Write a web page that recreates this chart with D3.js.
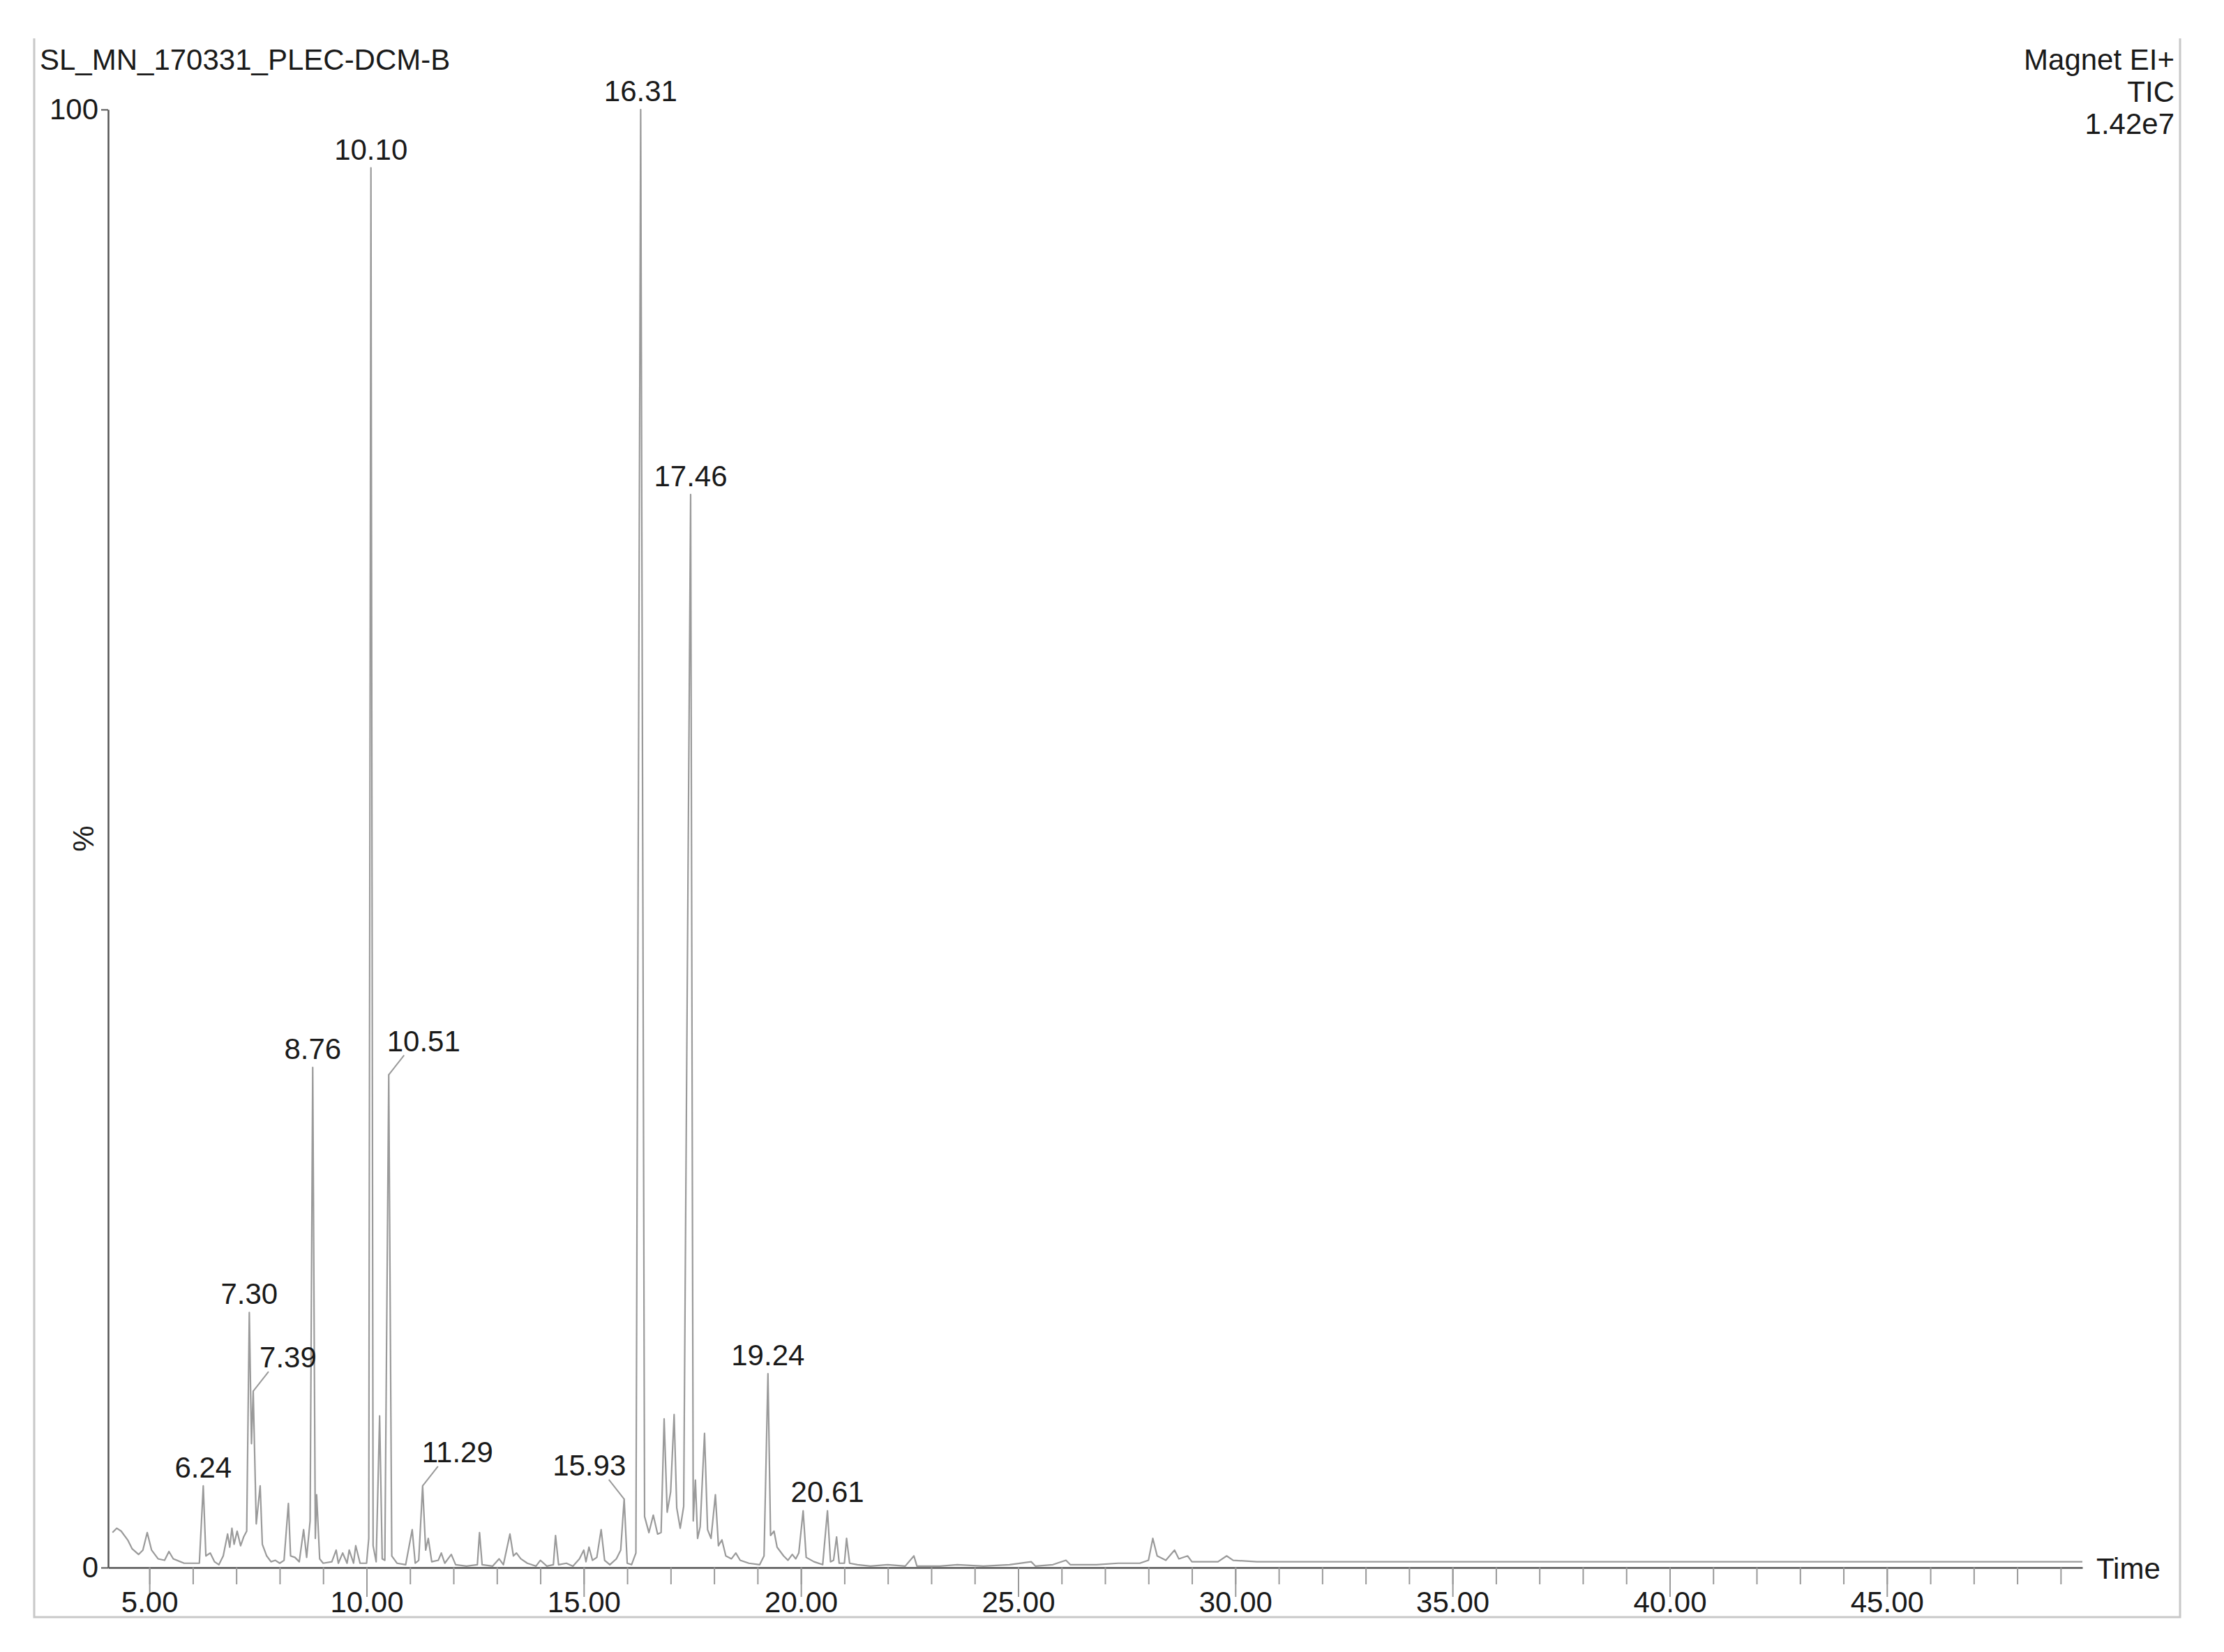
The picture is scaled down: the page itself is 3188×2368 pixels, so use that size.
<!DOCTYPE html>
<html>
<head>
<meta charset="utf-8">
<script src="https://cdn.jsdelivr.net/npm/d3@7"></script>
<style>
  body { margin: 0; background: #fff; }
  text { font-family: "Liberation Sans", Arial, sans-serif; fill: #1a1a1a; }
</style>
</head>
<body>
<svg></svg>
<script>
let svgWidth = 3188;
let svgHeight = 2368;

// chromatogram trace: [time (min), relative intensity %]
let trace = [
  [4.15, 2.4], [4.25, 2.7], [4.35, 2.5], [4.5, 1.9], [4.6, 1.3], [4.75, 0.9], [4.85, 1.2],
  [4.95, 2.4], [5.05, 1.2], [5.2, 0.6], [5.35, 0.5], [5.45, 1.1], [5.55, 0.6], [5.8, 0.3],
  [6.15, 0.3], [6.24, 5.6], [6.3, 0.8], [6.4, 1.0], [6.5, 0.4], [6.6, 0.2], [6.7, 0.8],
  [6.8, 2.3], [6.85, 1.4], [6.9, 2.7], [6.95, 1.6], [7.02, 2.5], [7.1, 1.5], [7.17, 2.1],
  [7.24, 2.5], [7.3, 17.5], [7.35, 8.5], [7.39, 12.1], [7.46, 3.0], [7.55, 5.6], [7.6, 1.6],
  [7.7, 0.8], [7.8, 0.4], [7.9, 0.5], [8.0, 0.3], [8.1, 0.5], [8.2, 4.4], [8.25, 0.8],
  [8.35, 0.7], [8.45, 0.4], [8.55, 2.6], [8.62, 0.7], [8.7, 3.2], [8.76, 34.3], [8.82, 2.0],
  [8.85, 5.0], [8.92, 0.6], [9.0, 0.3], [9.2, 0.4], [9.3, 1.2], [9.35, 0.3], [9.45, 1.0],
  [9.55, 0.3], [9.6, 1.2], [9.7, 0.3], [9.75, 1.5], [9.85, 0.3], [10.0, 0.3], [10.05, 2.0],
  [10.1, 96.0], [10.15, 1.5], [10.22, 0.4], [10.3, 10.4], [10.36, 0.6], [10.42, 0.5], [10.51, 33.8],
  [10.58, 0.8], [10.7, 0.3], [10.9, 0.2], [11.05, 2.6], [11.12, 0.3], [11.2, 0.5], [11.29, 5.6],
  [11.36, 1.2], [11.42, 2.0], [11.5, 0.4], [11.65, 0.5], [11.72, 1.0], [11.8, 0.3], [11.95, 0.9],
  [12.05, 0.2], [12.3, 0.1], [12.55, 0.2], [12.6, 2.4], [12.66, 0.2], [12.9, 0.1], [13.05, 0.6],
  [13.15, 0.2], [13.3, 2.3], [13.38, 0.8], [13.45, 1.0], [13.55, 0.6], [13.7, 0.3], [13.9, 0.1],
  [14.0, 0.5], [14.15, 0.1], [14.3, 0.2], [14.35, 2.2], [14.42, 0.2], [14.6, 0.3], [14.75, 0.1],
  [14.9, 0.6], [15.0, 1.2], [15.05, 0.4], [15.12, 1.4], [15.2, 0.5], [15.3, 0.7], [15.4, 2.6],
  [15.48, 0.5], [15.6, 0.2], [15.75, 0.6], [15.85, 1.2], [15.93, 4.7], [16.0, 0.3], [16.1, 0.2],
  [16.2, 1.0], [16.31, 100], [16.4, 3.5], [16.5, 2.4], [16.6, 3.6], [16.7, 2.3], [16.78, 2.4],
  [16.85, 10.2], [16.92, 3.8], [17.0, 5.2], [17.08, 10.5], [17.14, 4.1], [17.22, 2.7], [17.3, 4.2],
  [17.46, 73.6], [17.52, 3.2], [17.57, 6.0], [17.62, 2.0], [17.68, 2.8], [17.78, 9.2], [17.85, 2.6],
  [17.93, 2.0], [18.03, 5.0], [18.1, 1.5], [18.18, 1.9], [18.27, 0.8], [18.4, 0.6], [18.5, 1.0],
  [18.6, 0.5], [18.8, 0.3], [19.05, 0.2], [19.15, 0.8], [19.24, 13.3], [19.3, 2.2], [19.38, 2.5],
  [19.45, 1.4], [19.6, 0.8], [19.7, 0.5], [19.8, 0.9], [19.88, 0.6], [19.95, 1.0], [20.05, 3.9],
  [20.12, 0.7], [20.3, 0.4], [20.5, 0.2], [20.61, 3.9], [20.68, 0.4], [20.75, 0.5], [20.82, 2.1],
  [20.88, 0.3], [21.0, 0.3], [21.05, 2.0], [21.12, 0.3], [21.3, 0.2], [21.6, 0.1], [22.0, 0.2],
  [22.4, 0.1], [22.6, 0.8], [22.67, 0.1], [23.2, 0.1], [23.6, 0.2], [24.2, 0.1], [24.8, 0.2],
  [25.3, 0.4], [25.4, 0.1], [25.8, 0.2], [26.1, 0.5], [26.2, 0.2], [26.8, 0.2], [27.3, 0.3],
  [27.8, 0.3], [28.0, 0.5], [28.1, 2.0], [28.2, 0.8], [28.4, 0.5], [28.6, 1.2], [28.7, 0.6],
  [28.9, 0.8], [29.0, 0.4], [29.3, 0.4], [29.6, 0.4], [29.8, 0.8], [29.95, 0.5], [30.5, 0.4],
  [31.5, 0.4], [33.0, 0.4], [35.0, 0.4], [37.0, 0.4], [39.0, 0.4], [41.0, 0.4], [43.0, 0.4],
  [45.0, 0.4], [47.0, 0.4], [49.5, 0.4]
];

// labelled peaks: time, % height
let peakTimes = [6.24, 7.30, 7.39, 8.76, 10.10, 10.51, 11.29, 15.93, 16.31, 17.46, 19.24, 20.61];
let peakHeights = [5.6, 17.5, 12.1, 34.3, 96.0, 33.8, 5.6, 4.7, 100, 73.6, 13.3, 3.9];
// which labels sit beside the peak with a leader line (+1 right, -1 left, 0 above)
let leaderSide = [0, 0, 1, 0, 0, 1, 1, -1, 0, 0, 0, 0];

let xTicks = [5, 10, 15, 20, 25, 30, 35, 40, 45];
let title = "SL_MN_170331_PLEC-DCM-B";
let infoLines = ["Magnet EI+", "TIC", "1.42e7"];

let plotLeft = 155, plotRight = 2985, plotTop = 157, plotBottom = 2247;
let fontSize = 42;

var svg = d3.select("svg")
    .attr("width", svgWidth)
    .attr("height", svgHeight);

let xScale = d3.scaleLinear().domain([4.05, 49.5]).range([plotLeft, plotRight]);
let yScale = d3.scaleLinear().domain([0, 100]).range([plotBottom, plotTop]);

// outer frame
svg.append("path")
    .attr("d", `M49,55 V2318 H3125 V55`)
    .attr("fill", "none")
    .attr("stroke", "#c8c8c8")
    .attr("stroke-width", 3);

// trace
svg.append("path")
    .datum(trace)
    .attr("d", d3.line().x(d => xScale(d[0])).y(d => yScale(d[1])))
    .attr("fill", "none")
    .attr("stroke", "#9a9a9a")
    .attr("stroke-width", 2.2)
    .attr("stroke-linejoin", "round");

// x axis: minor ticks every minute, major every 5
let xMinor = d3.axisBottom(xScale)
    .tickValues(d3.range(5, 50, 1))
    .tickSize(24).tickFormat("").tickSizeOuter(0);
svg.append("g")
    .attr("transform", `translate(0, ${plotBottom})`)
    .call(xMinor)
    .call(g => g.select(".domain").attr("stroke", "#555").attr("stroke-width", 2.5))
    .call(g => g.selectAll(".tick line").attr("stroke", "#999").attr("stroke-width", 2));

let xAxis = d3.axisBottom(xScale)
    .tickValues(xTicks)
    .tickSize(42).tickSizeOuter(0)
    .tickFormat(d3.format(".2f"));
svg.append("g")
    .attr("transform", `translate(0, ${plotBottom})`)
    .call(xAxis)
    .call(g => g.select(".domain").remove())
    .call(g => g.selectAll(".tick line").attr("stroke", "#999").attr("stroke-width", 2))
    .call(g => g.selectAll(".tick text").attr("font-size", fontSize).attr("dy", "0.45em").attr("fill", "#1a1a1a")
        .style("font-family", "'Liberation Sans', Arial, sans-serif"));

// y axis
let yAxis = d3.axisLeft(yScale).tickValues([0, 100]).tickSize(10).tickSizeOuter(0);
svg.append("g")
    .attr("transform", `translate(${plotLeft}, 0)`)
    .call(yAxis)
    .call(g => g.select(".domain").attr("stroke", "#555").attr("stroke-width", 2.5))
    .call(g => g.selectAll(".tick line").attr("stroke", "#555").attr("stroke-width", 2))
    .call(g => g.selectAll(".tick text").attr("font-size", fontSize).attr("x", -14).attr("fill", "#1a1a1a")
        .style("font-family", "'Liberation Sans', Arial, sans-serif"));

svg.append("text").text("%")
    .attr("transform", `translate(134, ${yScale(50)}) rotate(-90)`)
    .attr("text-anchor", "middle")
    .attr("font-size", fontSize);

svg.append("text").text("Time")
    .attr("x", 3005).attr("y", plotBottom + 16)
    .attr("font-size", fontSize);

// header
svg.append("text").text(title)
    .attr("x", 57).attr("y", 100)
    .attr("font-size", fontSize);

svg.selectAll(".info")
    .data(infoLines)
    .enter()
    .append("text")
    .text(d => d)
    .attr("x", 3117)
    .attr("y", (d, i) => 100 + i * 46)
    .attr("text-anchor", "end")
    .attr("font-size", fontSize);

// peak labels
let peaks = peakTimes.map((t, i) => ({ t: t, v: peakHeights[i], side: leaderSide[i] }));
let labels = svg.selectAll(".peak")
    .data(peaks)
    .enter()
    .append("g");

labels.filter(d => d.side !== 0)
    .append("line")
    .attr("x1", d => xScale(d.t))
    .attr("y1", d => yScale(d.v))
    .attr("x2", d => xScale(d.t) + d.side * 22)
    .attr("y2", d => yScale(d.v) - 28)
    .attr("stroke", "#999")
    .attr("stroke-width", 2);

labels.append("text")
    .text(d => d3.format(".2f")(d.t))
    .attr("x", d => xScale(d.t) + d.side * 50)
    .attr("y", d => yScale(d.v) - (d.side !== 0 ? 34 : 12))
    .attr("text-anchor", "middle")
    .attr("font-size", fontSize);
</script>
</body>
</html>
